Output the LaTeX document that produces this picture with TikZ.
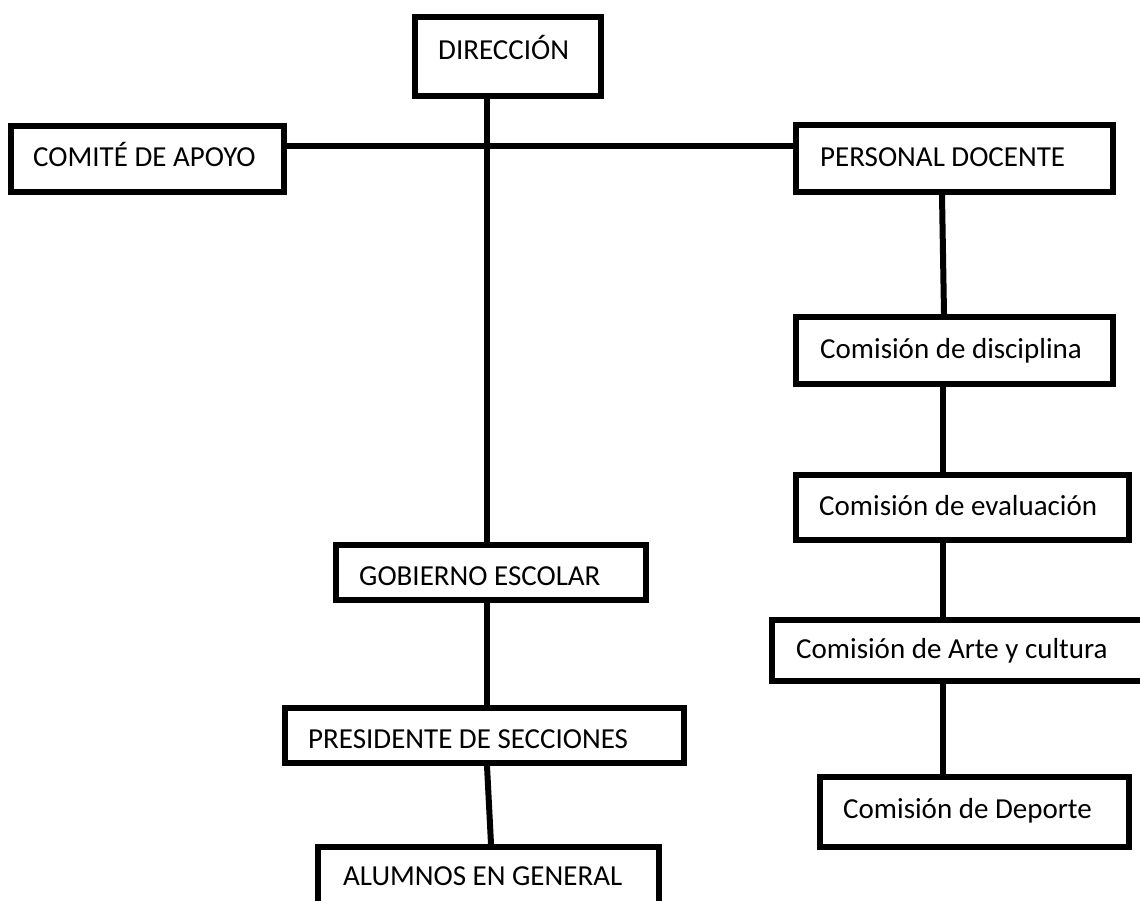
\documentclass[tikz,border=0pt]{standalone}
\usepackage{fontspec}
\setmainfont{Carlito}
\begin{document}
\begin{tikzpicture}[x=1pt,y=-1pt,
  box/.style={draw=black, line width=6pt, rectangle, inner sep=0pt, fill=none},
  lbl/.style={anchor=base west, inner sep=0pt, font=\fontsize{29}{34}\selectfont, text=black},
  link/.style={draw=black, line width=6pt}]
\useasboundingbox (0,0) rectangle (1140,901);
\clip (0,0) rectangle (1140,901);
\fill[white] (0,0) rectangle (1140,901);
% boxes
\node[box, minimum width=186pt, minimum height=79pt] (dir) at (508,56.5) {};
\node[box, minimum width=273pt, minimum height=66pt] (com) at (147.5,159) {};
\node[box, minimum width=317pt, minimum height=67pt] (pd) at (954.5,158.5) {};
\node[box, minimum width=317pt, minimum height=67pt] (disc) at (954.5,350.5) {};
\node[box, minimum width=333pt, minimum height=65pt] (eval) at (962.5,507.5) {};
\node[box, minimum width=395pt, minimum height=61pt] (arte) at (969.5,650.5) {};
\node[box, minimum width=309pt, minimum height=70pt] (dep) at (974.5,812) {};
\node[box, minimum width=310pt, minimum height=55pt] (gob) at (491,572.5) {};
\node[box, minimum width=399pt, minimum height=55pt] (pres) at (484.5,735.5) {};
\node[box, minimum width=341pt, minimum height=80pt] (alum) at (488.5,887) {};
% labels
\node[lbl] (tdir) at (438,60) {DIRECCIÓN};
\node[lbl] (tcom) at (33,167) {COMITÉ DE APOYO};
\node[lbl] (tpd) at (820,167) {PERSONAL DOCENTE};
\node[lbl] (tdisc) at (820,358) {Comisión de disciplina};
\node[lbl] (teval) at (819,515) {Comisión de evaluación};
\node[lbl] (tarte) at (796,658) {Comisión de Arte y cultura};
\node[lbl] (tdep) at (843,818) {Comisión de Deporte};
\node[lbl] (tgob) at (359,585) {GOBIERNO ESCOLAR};
\node[lbl] (tpres) at (308,748) {PRESIDENTE DE SECCIONES};
\node[lbl] (talum) at (343,885) {ALUMNOS EN GENERAL};
% guide coordinates
\coordinate (vmain) at (487,0);
\coordinate (hmain) at (0,146);
\coordinate (vright) at (943,0);
% connectors
\draw[link] (vmain |- dir.south) -- (vmain |- gob.north);
\draw[link] (com.east |- hmain) -- (pd.west |- hmain);
\draw[link] (942,195) coordinate (pdb) -- (944,314) coordinate (disct);
\draw[link] (vright |- disc.south) -- (vright |- eval.north);
\draw[link] (vright |- eval.south) -- (vright |- arte.north);
\draw[link] (vright |- arte.south) -- (vright |- dep.north);
\draw[link] (vmain |- gob.south) -- (vmain |- pres.north);
\draw[link] (487,766) coordinate (presb) -- (491,844) coordinate (alumt);
\end{tikzpicture}
\end{document}
